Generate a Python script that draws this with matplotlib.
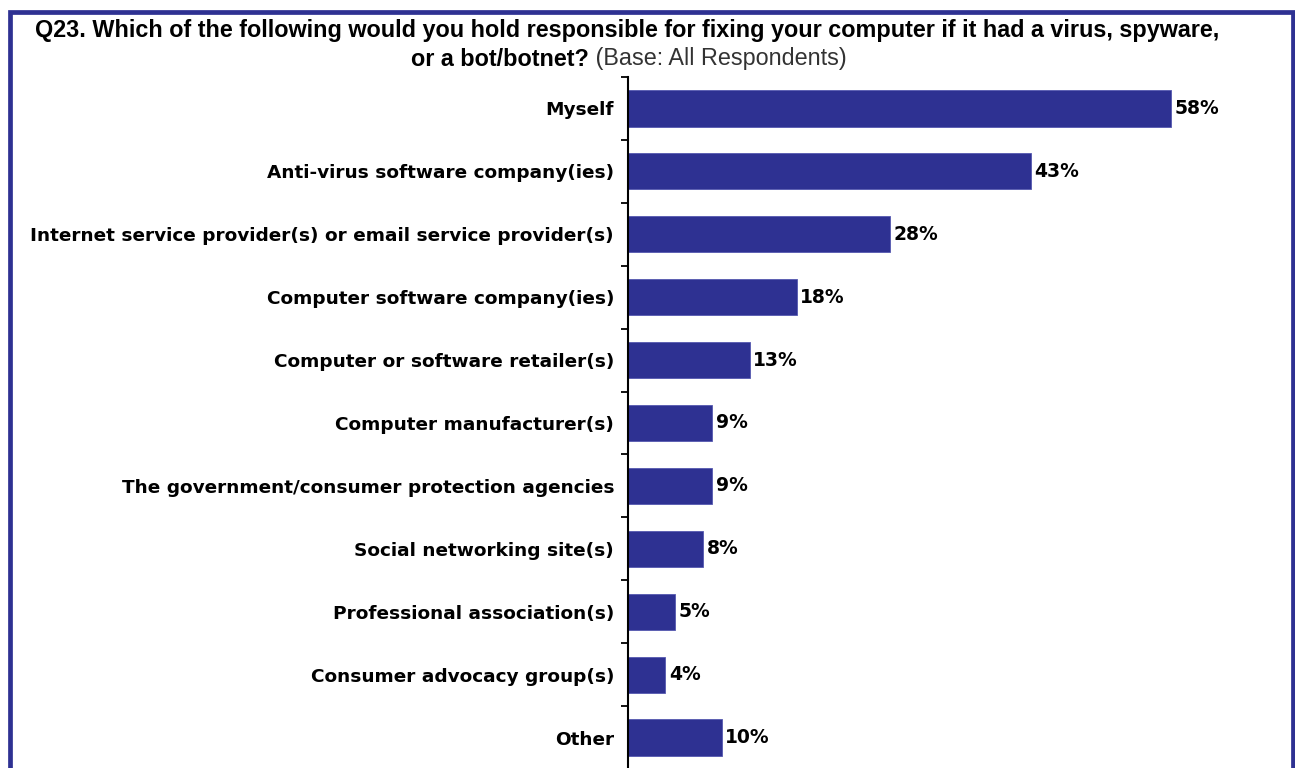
import matplotlib
matplotlib.use("Agg")
import matplotlib.pyplot as plt
from matplotlib.patches import Rectangle

categories = [
    "Myself",
    "Anti-virus software company(ies)",
    "Internet service provider(s) or email service provider(s)",
    "Computer software company(ies)",
    "Computer or software retailer(s)",
    "Computer manufacturer(s)",
    "The government/consumer protection agencies",
    "Social networking site(s)",
    "Professional association(s)",
    "Consumer advocacy group(s)",
    "Other",
]
values = [58, 43, 28, 18, 13, 9, 9, 8, 5, 4, 10]
value_labels = [f"{v}%" for v in values]

title_bold_1 = "Q23. Which of the following would you hold responsible for fixing your computer if it had a virus, spyware,"
title_bold_2 = "or a bot/botnet?"
title_base = " (Base: All Respondents)"

BAR = "#2E3192"
W, H = 1295, 768
fig = plt.figure(figsize=(W / 100, H / 100), dpi=100)
fig.patch.set_facecolor("white")

# axes box in pixel terms
ax_left, ax_right = 628, 1270
ax_top, ax_bottom = 77, 769
ax = fig.add_axes([ax_left / W, (H - ax_bottom) / H,
                   (ax_right - ax_left) / W, (ax_bottom - ax_top) / H])

n = len(categories)
pos = list(range(n))
ax.barh(pos, values, height=0.575, color=BAR, edgecolor="#5558b0", linewidth=0.6, zorder=2)
ax.set_xlim(0, (ax_right - ax_left) / 9.37)
ax.set_ylim(n - 0.5, -0.5)

for p, v, lab in zip(pos, values, value_labels):
    ax.annotate(lab, xy=(v, p), xytext=(2.5, 0), textcoords="offset points",
                ha="left", va="center", fontsize=13.5, fontweight="bold",
                family="DejaVu Sans", color="black")

ax.set_yticks(pos)
ax.set_yticklabels(categories, fontsize=13.3, fontweight="bold", family="DejaVu Sans")
ax.tick_params(axis="y", which="major", length=0, pad=10)
ax.set_yticks([i - 0.5 for i in range(n + 1)], minor=True)
ax.tick_params(axis="y", which="minor", length=5, width=1.3, direction="out", color="black")
ax.set_xticks([])
for s in ("top", "right", "bottom"):
    ax.spines[s].set_visible(False)
ax.spines["left"].set_linewidth(1.5)
ax.spines["left"].set_color("black")

# title lines
fig.text(627 / W, 1 - 31 / H, title_bold_1, ha="center", va="center",
         fontsize=16.8, fontweight="bold", family="Liberation Sans")
fig.text(589 / W, 1 - 59 / H, title_bold_2, ha="right", va="center",
         fontsize=16.8, fontweight="bold", family="Liberation Sans")
fig.text(589 / W, 1 - 59 / H, title_base, ha="left", va="center",
         fontsize=16.8, family="Liberation Sans", color="#333333")

# frame around the figure
fig.patches.append(Rectangle((9.5 / W, -0.05), (1292.5 - 9.5) / W, 1.05 - 12 / H,
                             transform=fig.transFigure, fill=False,
                             edgecolor=BAR, linewidth=3.4, zorder=5))

fig.savefig("out.png", dpi=100, facecolor="white")
